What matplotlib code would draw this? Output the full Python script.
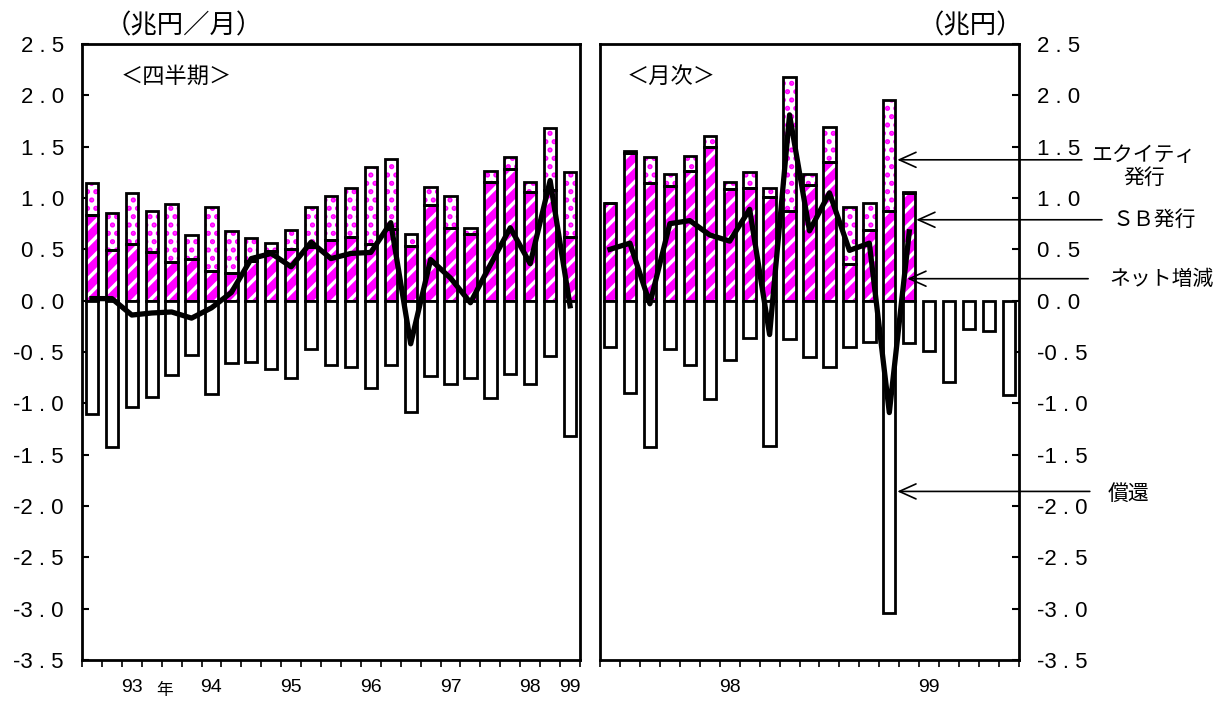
"""Corporate bond issuance: quarterly and monthly panels."""

import numpy as np
import matplotlib
matplotlib.use('Agg')
import matplotlib.pyplot as plt
from matplotlib import transforms
from matplotlib.ticker import NullFormatter

plt.rcParams['font.family'] = ['Noto Sans CJK JP', 'DejaVu Sans']
plt.rcParams['hatch.linewidth'] = 2.5

# quarterly, 93Q1 .. 99Q1 (trillion yen / month)
q_sb = [0.83, 0.49, 0.55, 0.47, 0.38, 0.41, 0.29, 0.27, 0.39, 0.48, 0.50, 0.52, 0.59,
        0.62, 0.55, 0.70, 0.53, 0.93, 0.71, 0.65, 1.16, 1.28, 1.06, 1.08, 0.62]
q_equity = [0.32, 0.36, 0.50, 0.40, 0.56, 0.23, 0.62, 0.41, 0.22, 0.08, 0.19, 0.39, 0.43,
            0.48, 0.75, 0.68, 0.12, 0.18, 0.31, 0.06, 0.10, 0.12, 0.10, 0.60, 0.63]
q_redeem = [-1.10, -1.43, -1.04, -0.94, -0.72, -0.53, -0.91, -0.61, -0.60, -0.67, -0.75,
            -0.47, -0.63, -0.65, -0.85, -0.63, -1.08, -0.73, -0.81, -0.75, -0.95, -0.71,
            -0.81, -0.54, -1.32]
q_net = [0.02, 0.02, -0.14, -0.12, -0.11, -0.17, -0.07, 0.08, 0.41, 0.46, 0.33, 0.57, 0.41,
         0.46, 0.47, 0.76, -0.42, 0.40, 0.22, -0.02, 0.35, 0.71, 0.36, 1.17, -0.05]
q_labels = ['93', '94', '95', '96', '97', '98', '99']
q_label_pos = [2, 6, 10, 14, 18, 22, 24]

# monthly (trillion yen)
m_sb = [0.95, 1.44, 1.15, 1.12, 1.26, 1.50, 1.09, 1.10, 1.01, 0.87, 1.13, 1.35, 0.36,
        0.69, 0.87, 1.05]
m_equity = [0.0, 0.015, 0.25, 0.11, 0.15, 0.10, 0.07, 0.15, 0.09, 1.31, 0.10, 0.34, 0.55,
            0.26, 1.08, 0.012]
m_redeem = [-0.45, -0.90, -1.43, -0.47, -0.63, -0.96, -0.58, -0.36, -1.42, -0.37, -0.55,
            -0.65, -0.45, -0.40, -3.04, -0.41, -0.49, -0.79, -0.28, -0.30, -0.92]
m_net = [0.50, 0.56, -0.03, 0.75, 0.78, 0.64, 0.58, 0.89, -0.33, 1.81, 0.68, 1.05, 0.49,
         0.56, -1.09, 0.67]
m_labels = ['98', '99']
m_label_pos = [6, 16]

yticks = np.linspace(-3.5, 2.5, 13)
MAGENTA = '#ff00ff'
BAR_W = 0.62
EDGE = 2.0
NUM_FONT = 'Liberation Sans'


def draw_panel(ax, sb, equity, redeem, net, labels, label_pos):
    x_pos = np.arange(len(sb))
    x_all = np.arange(len(redeem))
    sb = np.asarray(sb)

    # SB issuance: magenta with white stripes
    ax.bar(x_pos, sb, BAR_W, color=MAGENTA, edgecolor='white', hatch='//',
           linewidth=0, zorder=2)
    ax.bar(x_pos, sb, BAR_W, fill=False, edgecolor='black', linewidth=EDGE, zorder=3)
    # equity issuance: magenta dots on white
    ax.bar(x_pos, equity, BAR_W, bottom=sb, color='white', edgecolor=MAGENTA, hatch='..',
           linewidth=0, zorder=2)
    ax.bar(x_pos, equity, BAR_W, bottom=sb, fill=False, edgecolor='black',
           linewidth=EDGE, zorder=3)
    # redemptions
    ax.bar(x_all, redeem, BAR_W, color='white', edgecolor='black', linewidth=EDGE, zorder=3)
    # net change
    ax.plot(np.arange(len(net)), net, color='black', lw=3.8, zorder=5)

    ax.set_ylim(-3.5, 2.5)
    ax.set_xlim(-0.5, len(redeem) - 0.5)
    ax.set_yticks(yticks)
    ax.set_yticklabels([f"{v:.1f}".replace('.', ' . ') for v in yticks],
                       fontfamily=NUM_FONT, fontsize=16)

    ax.set_xticks(np.arange(-0.5, len(redeem)))
    ax.xaxis.set_major_formatter(NullFormatter())
    ax.set_xticks(label_pos, minor=True)
    ax.set_xticklabels(labels, minor=True, fontfamily=NUM_FONT, fontsize=14)
    ax.tick_params(axis='x', which='major', direction='out', length=5, width=1.2)
    ax.tick_params(axis='x', which='minor', length=0, pad=14)
    ax.tick_params(axis='y', direction='in', length=5, width=1.5, pad=13)
    for sp in ax.spines.values():
        sp.set_linewidth(EDGE)


fig = plt.figure(figsize=(12.25, 7.01), dpi=100)
bottom = 1 - 660 / 701
height = 616 / 701
ax1 = fig.add_axes([82 / 1225, bottom, 498 / 1225, height])
ax2 = fig.add_axes([600 / 1225, bottom, 419 / 1225, height])

draw_panel(ax1, q_sb, q_equity, q_redeem, q_net, q_labels, q_label_pos)
draw_panel(ax2, m_sb, m_equity, m_redeem, m_net, m_labels, m_label_pos)

ax2.yaxis.tick_right()
ax2.tick_params(axis='y', left=False, right=True, labelleft=False, labelright=True)

ax1.text(0.205, 1.029, "（兆円／月）", transform=ax1.transAxes, ha='center', va='center',
         fontsize=19)
ax2.text(0.885, 1.029, "（兆円）", transform=ax2.transAxes, ha='center', va='center',
         fontsize=19)
ax1.text(0.189, 0.948, "＜四半期＞", transform=ax1.transAxes, ha='center', va='center',
         fontsize=16)
ax2.text(0.169, 0.948, "＜月次＞", transform=ax2.transAxes, ha='center', va='center',
         fontsize=16)
year_tr = transforms.blended_transform_factory(ax1.transData, ax1.transAxes)
ax1.text(3.65, -0.064, "年", transform=year_tr, ha='center', va='bottom', fontsize=12)

# legend-like callouts on the right
blend = transforms.blended_transform_factory(ax2.transAxes, ax2.transData)
arrows = [(14.4, 1.372, 1.150), (15.35, 0.788, 1.198), (14.9, 0.214, 1.165),
          (14.4, -1.858, 1.169)]
for tip_x, y, tail in arrows:
    ax2.annotate('', xy=(tip_x, y), xycoords='data', xytext=(tail, y), textcoords=blend,
                 arrowprops=dict(arrowstyle='->, head_length=0.6, head_width=0.27',
                                 lw=1.2, color='black', mutation_scale=20,
                                 shrinkA=0, shrinkB=0),
                 annotation_clip=False, zorder=6)

notes = [("エクイティ", 1.296, 1.417), ("発行", 1.298, 1.193), ("ＳＢ発行", 1.322, 0.786),
         ("ネット増減", 1.341, 0.21), ("償還", 1.262, -1.88)]
for txt, nx, ny in notes:
    ax2.text(nx, ny, txt, transform=blend, ha='center', va='center', fontsize=15)

fig.savefig('out.png', dpi=100)
